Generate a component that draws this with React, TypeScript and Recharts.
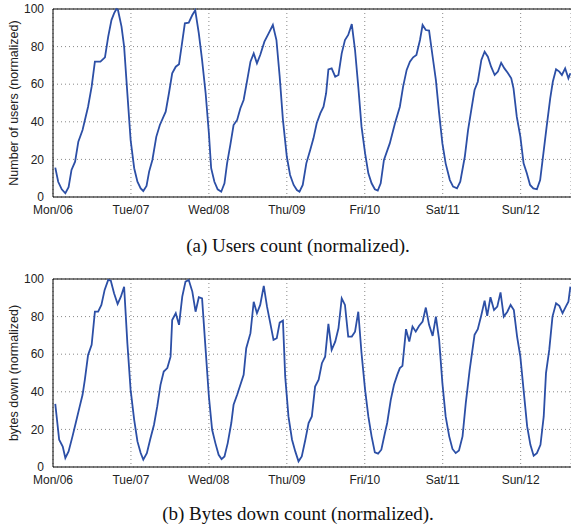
import { CartesianGrid, Line, LineChart, ReferenceLine, XAxis, YAxis } from "recharts";

// hour offset from Mon/06 00:00, normalized value
const dayLabels = ["Mon/06", "Tue/07", "Wed/08", "Thu/09", "Fri/10", "Sat/11", "Sun/12"];
const dayTicks = [0, 24, 48, 72, 96, 120, 144];
const yTicks = [0, 20, 40, 60, 80, 100];

const usersPoints: [number, number][] = [
  [0.7, 15.6], [1.6, 8.1], [2.7, 4.1], [3.8, 2.0], [4.8, 5.2], [5.7, 14.4], [6.8, 18.8], [7.8, 29.4],
  [9.1, 35.6], [10.8, 48], [11.9, 58.7], [12.9, 72], [13.6, 72], [14.6, 72], [16, 74.3], [17, 85.3],
  [18, 94.1], [18.8, 97.7], [19.5, 100], [20, 99.5], [21.1, 90.6], [21.9, 80], [22.9, 55], [23.9, 30.3],
  [25, 15.3], [26, 8.1], [27, 4.6], [27.8, 3.2], [28.8, 5.9], [29.6, 13.5], [30.6, 19.7], [31.8, 32],
  [32.9, 38.3], [34.7, 45.4], [35.7, 55.2], [36.7, 65.8], [37.8, 69.3], [38.8, 70.6], [39.8, 82.6], [40.6, 92.4],
  [41.8, 92.7], [42.9, 96.8], [43.8, 99.3], [44.9, 87], [45.9, 72.9], [47, 55.2], [48, 33.9], [48.7, 15.3],
  [49.7, 8.1], [50.7, 4.1], [51.8, 2.8], [52.8, 7.3], [53.6, 17.9], [54.6, 27.7], [55.6, 38.3], [56.7, 41],
  [57.7, 47.2], [58.7, 51.6], [59.8, 62.2], [60.8, 72], [61.8, 76.4], [62.8, 71.1], [63.8, 75.5], [65.1, 82.6],
  [66.4, 87], [67.7, 91.5], [68.8, 83.5], [69.8, 64], [70.8, 41], [72, 21.4], [73, 11.7], [74.1, 6.4],
  [75.1, 3.7], [75.9, 2.8], [76.9, 6.4], [78, 17.9], [79.2, 25], [80.2, 31.2], [81.2, 39.2], [82.3, 44.5],
  [83.3, 48], [84.1, 55.2], [84.8, 67.9], [85.8, 68.4], [86.9, 64], [87.9, 64.9], [88.9, 76.4], [89.9, 83.5],
  [90.9, 86.2], [92, 92], [93, 78.2], [94, 58.7], [95, 37.4], [96.1, 23.2], [97.1, 12.6], [98.1, 7.3],
  [99.1, 4.1], [100, 3.4], [100.9, 7.3], [101.9, 19.7], [103.7, 28.5], [105.3, 39.2], [106.8, 48], [107.8, 58.7],
  [108.9, 67.6], [109.9, 72], [110.9, 74.3], [111.9, 75.5], [113, 83.5], [113.8, 91.5], [114.8, 88.8], [115.8, 88.5],
  [116.9, 74.6], [117.9, 62.2], [118.9, 44.5], [119.9, 28.5], [120.9, 17.9], [122.2, 9], [123.2, 5.5], [124.4, 4.6],
  [125.4, 8.1], [126.8, 21.4], [127.8, 35.6], [128.8, 46.3], [129.8, 56.9], [130.8, 61.3], [131.9, 72.9], [132.9, 77.3],
  [133.9, 74.6], [134.9, 69.3], [136, 64.9], [137, 66.7], [138, 71.4], [139, 68.4], [140, 66.1], [141.1, 63.1],
  [141.8, 57.8], [142.8, 42.7], [143.9, 32.1], [144.9, 17.9], [145.9, 12.6], [146.9, 6.4], [147.9, 4.6], [149, 4.1],
  [150, 9], [151, 23.2], [152, 37.4], [153.1, 52.5], [153.9, 61.3], [154.9, 67.9], [155.9, 66.7], [156.7, 64.9],
  [157.7, 68.4], [158.7, 63.1], [159.3, 65.8],
];

const bytesPoints: [number, number][] = [
  [0.7, 33.6], [1.9, 14.5], [3, 10.9], [3.8, 4.8], [4.8, 8.3], [6, 16.3], [7, 23.4], [8.1, 31.3],
  [9.1, 38.4], [9.8, 46.4], [10.8, 59.6], [11.9, 65], [12.9, 82.6], [13.9, 82.6], [14.9, 86.2], [15.9, 94.2],
  [17, 99.5], [17.8, 99.1], [18.8, 92.4], [19.9, 86.7], [20.9, 90.6], [21.9, 95.9], [22.9, 65.8], [23.9, 41],
  [25, 25.1], [26, 13.6], [27, 7.4], [27.8, 3.9], [28.9, 7.4], [29.9, 14.5], [31.1, 22.5], [32.1, 32.2],
  [33.1, 43.7], [34.1, 50.8], [35.2, 52.6], [36.2, 58.7], [36.7, 78.2], [37.8, 81.8], [38.8, 75.6], [39.8, 90.6],
  [40.8, 98.6], [41.8, 99.5], [42.9, 93.3], [43.9, 82.6], [44.9, 90.3], [45.9, 89.7], [47, 62.3], [48, 37.5],
  [49, 19.8], [50, 12.7], [51, 6.5], [51.9, 4.2], [52.8, 5.6], [53.8, 12.7], [54.9, 23.4], [55.6, 33.1],
  [56.7, 38.4], [57.7, 43.7], [58.7, 49], [59.5, 63.2], [60.8, 71.2], [61.8, 87.9], [62.8, 81.8], [63.8, 86.2],
  [64.9, 96.3], [65.9, 85.3], [66.9, 76.5], [67.9, 67.6], [68.9, 68.5], [69.8, 76.8], [70.8, 77.9], [71.5, 48.1],
  [72.5, 26.9], [73.6, 14.5], [74.6, 8.3], [75.6, 3], [76.6, 5.6], [77.7, 14.5], [78.7, 23.4], [79.7, 26.9],
  [80.7, 42.8], [81.8, 46.4], [82.8, 55.2], [83.8, 58.7], [84.8, 76.1], [85.8, 62.3], [86.9, 66.7], [87.9, 73.8],
  [88.9, 89.7], [89.9, 86.2], [90.9, 69.4], [92, 69.4], [93, 72], [94, 82.6], [95, 60.5], [96.1, 41],
  [97.1, 26.9], [98.1, 16.3], [99.1, 7.8], [100.1, 7.1], [101.1, 9.2], [102.2, 18.1], [102.9, 23.4], [104, 35.7],
  [105, 43.7], [106, 49], [106.8, 52.6], [107.6, 53.8], [108.7, 73.3], [109.7, 66.7], [110.7, 74.7], [111.7, 72],
  [112.7, 75], [113.8, 77.3], [114.8, 84.8], [115.8, 75.6], [116.9, 69.7], [117.9, 80], [118.9, 67.6], [119.9, 44.6],
  [120.9, 26.9], [122, 16.3], [123, 9.6], [124, 7.4], [125, 8.8], [126.1, 16.3], [127.1, 34], [128.3, 51.7],
  [129.8, 70.3], [130.8, 73.3], [131.9, 80.9], [132.9, 88.5], [133.7, 80.4], [134.7, 90.3], [135.8, 83.5], [136.8, 85.3],
  [137.8, 92.9], [138.8, 80], [139.9, 82.6], [140.9, 86.2], [141.9, 83.5], [142.9, 69.4], [143.9, 58.7], [144.9, 41],
  [146, 21.6], [147, 11.8], [148, 6], [149, 7.4], [150.1, 11.8], [151.1, 26.9], [151.8, 49.9], [152.8, 62.3],
  [153.8, 80], [154.9, 87.1], [155.9, 85.7], [156.9, 81.8], [157.9, 85.3], [158.7, 87.9], [159.3, 95.9],
];

const FONT = '"Liberation Sans", Arial, Helvetica, sans-serif';
const tickStyle = { fill: "#222", fontSize: 12, fontFamily: FONT };

function Panel({ points, ylabel }: { points: [number, number][]; ylabel: string }) {
  const data = points.map(([h, v]) => ({ h, v }));
  return (
    <LineChart width={571} height={220} data={data} margin={{ top: 9, right: 0, bottom: 0, left: 0 }}>
      <CartesianGrid stroke="#888" strokeDasharray="1 3" />
      <XAxis
        dataKey="h"
        type="number"
        domain={[0, 159.5]}
        allowDataOverflow
        ticks={dayTicks}
        interval={0}
        tickFormatter={(v) => dayLabels[dayTicks.indexOf(v)] ?? ""}
        tick={tickStyle}
        tickLine={false}
        tickMargin={2}
        height={23}
        stroke="#000"
      />
      <YAxis
        type="number"
        domain={[0, 100]}
        ticks={yTicks}
        interval={0}
        tick={tickStyle}
        tickLine={false}
        tickMargin={3}
        width={53}
        stroke="#000"
        label={{
          value: ylabel,
          angle: -90,
          position: "insideLeft",
          offset: 14,
          style: { textAnchor: "middle", fill: "#222", fontSize: 12.5, fontFamily: FONT },
        }}
      />
      <ReferenceLine y={100} stroke="#000" />
      <Line
        dataKey="v"
        type="linear"
        stroke="#2c4fa6"
        strokeWidth={1.8}
        dot={false}
        isAnimationActive={false}
      />
    </LineChart>
  );
}

const captionStyle = {
  position: "absolute" as const,
  left: 98,
  width: 400,
  textAlign: "center" as const,
  fontFamily: '"Liberation Serif", "Times New Roman", serif',
  fontSize: 19,
  lineHeight: "22px",
  color: "#111",
};

export default function App() {
  return (
    <div style={{ position: "absolute", left: 0, top: 0, width: 571, height: 531, background: "#fff", overflow: "hidden" }}>
      <div style={{ position: "absolute", left: 0, top: 0 }}>
        <Panel points={usersPoints} ylabel="Number of users (normalized)" />
      </div>
      <div style={{ ...captionStyle, top: 235 }}>(a) Users count (normalized).</div>
      <div style={{ position: "absolute", left: 0, top: 270 }}>
        <Panel points={bytesPoints} ylabel="bytes down (normalized)" />
      </div>
      <div style={{ ...captionStyle, top: 503 }}>(b) Bytes down count (normalized).</div>
    </div>
  );
}
